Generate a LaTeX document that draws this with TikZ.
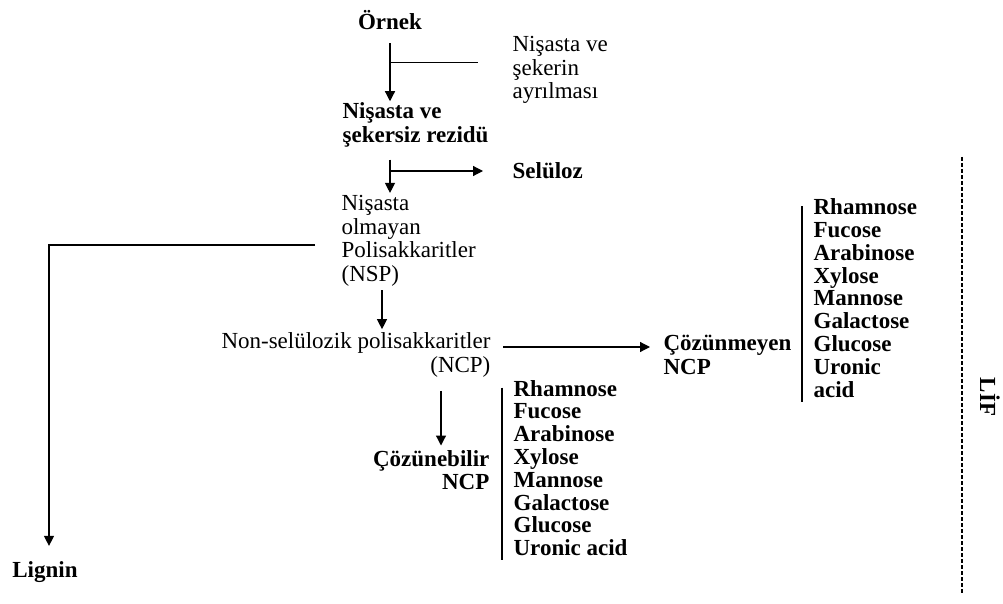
\documentclass[tikz,border=0pt]{standalone}
\usepackage{fontspec}
\setmainfont{Liberation Serif}
\usetikzlibrary{arrows.meta}

\begin{document}
\begin{tikzpicture}[x=1pt, y=-1pt, line width=1.2pt,
  every node/.style={font=\fontsize{23}{23.6}\selectfont, inner sep=0pt, align=left},
  lbl/.style={font=\fontsize{23}{23.6}\selectfont\bfseries},
  liste/.style={font=\fontsize{23}{22.8}\selectfont\bfseries, anchor=west},
  arr/.style={-{Triangle[length=10pt,width=10pt]}}]
  \useasboundingbox (0,0) rectangle (1003,604);
  % steps of the analysis
  \node[lbl] (ornek) at (390,20) {Örnek};
  \node[anchor=west] (ayir) at (512,70) {Nişasta ve\\şekerin\\ayrılması};
  \node[lbl, anchor=west] (rezidu) at (342,125) {Nişasta ve\\şekersiz rezidü};
  \node[lbl, anchor=west] (selu) at (512,171) {Selüloz};
  \node[anchor=west] (nsp) at (341,241) {Nişasta\\olmayan\\Polisakkaritler\\(NSP)};
  \node[lbl] (lignin) at (45,572) {Lignin};
  \node[align=right, anchor=east] (ncp) at (491,355) {Non-selülozik polisakkaritler\\(NCP)};
  \node[lbl, anchor=west] (cozm) at (663,355) {Çözünmeyen\\NCP};
  \node[lbl, align=right, anchor=east] (cozb) at (490,470) {Çözünebilir\\NCP};
  % sugar lists
  \node[liste] (liste1) at (813,298) {Rhamnose\\Fucose\\Arabinose\\Xylose\\Mannose\\Galactose\\Glucose\\Uronic\\acid};
  \node[liste] (liste2) at (513,468) {Rhamnose\\Fucose\\Arabinose\\Xylose\\Mannose\\Galactose\\Glucose\\Uronic acid};
  \node[lbl, rotate=-90] (lif) at (990,397) {LİF};
  % arrows
  \draw[arr, shorten >=1pt] ([yshift=-13pt]ornek.south) -- (ornek.south |- rezidu.north);
  \coordinate (k1) at ([yshift=-32pt]ornek.south);
  \draw[shorten >=34pt] (k1) -- (k1 -| ayir.west);
  \draw[arr, shorten <=12pt, shorten >=2pt] (ornek.south |- rezidu.south) -- (ornek.south |- nsp.north);
  \draw[arr, shorten >=29pt] (ornek.south |- selu.west) -- (selu.west);
  \draw[arr, shorten >=15pt] ([xshift=-26pt,yshift=-4pt]nsp.west) -| ([xshift=4pt]lignin.north);
  \draw[arr, shorten <=3pt, shorten >=3pt] ([xshift=41pt]nsp.south west) -- ([xshift=41pt]nsp.south west |- ncp.north);
  \draw[arr] ([xshift=12pt,yshift=8pt]ncp.east) -- ([xshift=-13pt,yshift=8pt]cozm.west);
  \draw[arr, shorten <=13pt, shorten >=4pt] ([xshift=-50pt]ncp.south east) -- ([xshift=-50pt]ncp.south east |- cozb.north);
  % bars and border
  \draw ([xshift=-11pt,yshift=-8pt]liste1.north west) -- ([xshift=-11pt,yshift=-4pt]liste1.south west);
  \draw ([xshift=-11pt,yshift=-8pt]liste2.north west) -- ([xshift=-11pt,yshift=-4pt]liste2.south west);
  \draw[dash pattern=on 4pt off 2pt] (962,157) -- (962,593);
\end{tikzpicture}
\end{document}
